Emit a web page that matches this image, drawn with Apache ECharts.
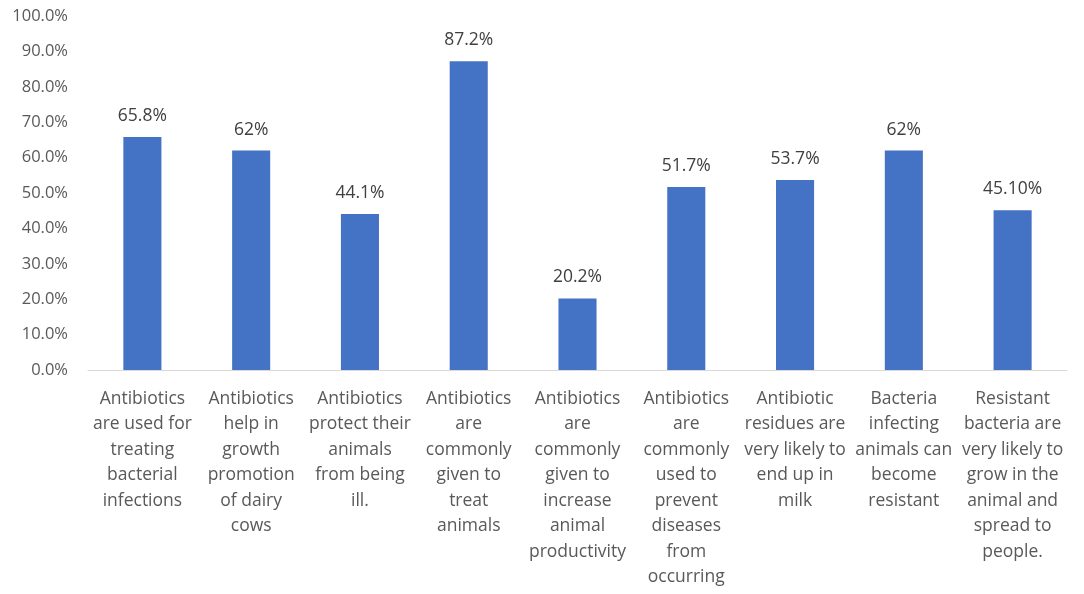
<!DOCTYPE html>
<html>
<head>
<meta charset="utf-8">
<script src="https://cdn.jsdelivr.net/npm/echarts@6/dist/echarts.min.js"></script>
<style>
  html, body { margin: 0; padding: 0; background: #fff; }
  #chart { width: 1084px; height: 594px; }
</style>
</head>
<body>
<div id="chart"></div>
<script>
var categories = [
    'Antibiotics\nare used for\ntreating\nbacterial\ninfections',
    'Antibiotics\nhelp in\ngrowth\npromotion\nof dairy\ncows',
    'Antibiotics\nprotect their\nanimals\nfrom being\nill.',
    'Antibiotics\nare\ncommonly\ngiven to\ntreat\nanimals',
    'Antibiotics\nare\ncommonly\ngiven to\nincrease\nanimal\nproductivity',
    'Antibiotics\nare\ncommonly\nused to\nprevent\ndiseases\nfrom\noccurring',
    'Antibiotic\nresidues are\nvery likely to\nend up in\nmilk',
    'Bacteria\ninfecting\nanimals can\nbecome\nresistant',
    'Resistant\nbacteria are\nvery likely to\ngrow in the\nanimal and\nspread to\npeople.'
];
var values = [65.8, 62, 44.1, 87.2, 20.2, 51.7, 53.7, 62, 45.1];
var valueLabels = ['65.8%', '62%', '44.1%', '87.2%', '20.2%', '51.7%', '53.7%', '62%', '45.10%'];

var chart = echarts.init(document.getElementById('chart'));

var option = {
    backgroundColor: '#ffffff',
    animation: false,
    textStyle: { fontFamily: 'Open Sans' },
    grid: { left: 88, right: 17, top: 16, bottom: 224, containLabel: false },
    xAxis: {
        type: 'category',
        data: categories,
        axisLine: { show: true, lineStyle: { color: '#d9d9d9', width: 1 } },
        axisTick: { show: false },
        axisLabel: {
            interval: 0,
            color: '#595959',
            fontSize: 17.5,
            lineHeight: 25.5,
            margin: 16,
            align: 'center'
        }
    },
    yAxis: {
        type: 'value',
        min: 0,
        max: 100,
        interval: 10,
        splitLine: { show: false },
        axisLine: { show: false },
        axisTick: { show: false },
        axisLabel: {
            color: '#595959',
            fontSize: 16.5,
            margin: 20,
            formatter: function (v) { return v.toFixed(1) + '%'; }
        }
    },
    series: [{
        type: 'bar',
        data: values,
        barWidth: '35%',
        itemStyle: { color: '#4472c4' },
        label: {
            show: true,
            position: 'top',
            distance: 12,
            color: '#404040',
            fontSize: 17.5,
            formatter: function (p) { return valueLabels[p.dataIndex]; }
        }
    }]
};

chart.setOption(option);
</script>
</body>
</html>
